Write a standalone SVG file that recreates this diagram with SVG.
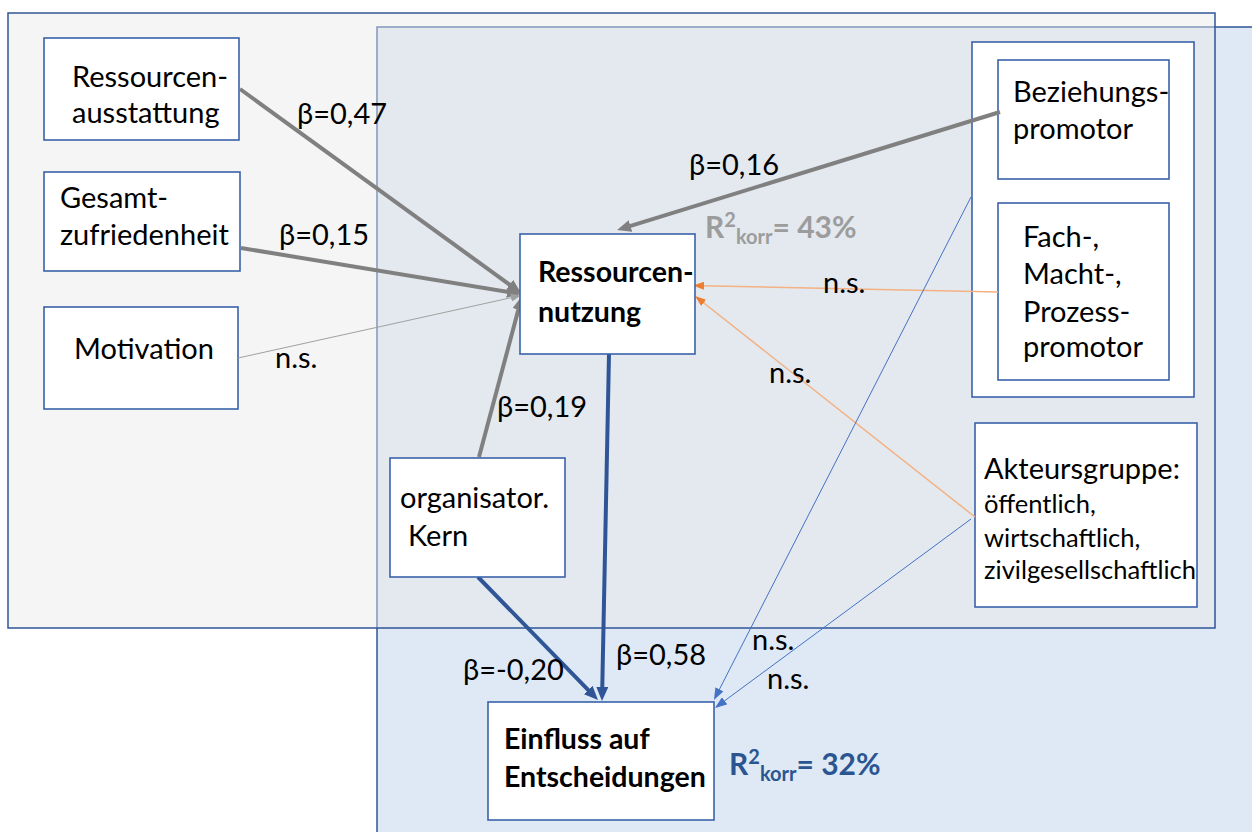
<svg xmlns="http://www.w3.org/2000/svg" width="1252" height="832" viewBox="0 0 1252 832">
<style>
.t{font-family:Lato,"Liberation Sans",sans-serif;font-size:29px;fill:#000}
.b{font-weight:bold;font-size:28.5px}
.s{font-size:25.5px}
.node{fill:#fff;stroke:#3a62aa;stroke-width:1.6}
.g{stroke:#808080;stroke-width:4;fill:none}
.gt{stroke:#a0a0a0;stroke-width:1;fill:none}
.bt{stroke:#2f5597;stroke-width:4;fill:none}
.bl{stroke:#4472c4;stroke-width:1;fill:none}
.or{stroke:#f4b183;stroke-width:1.5;fill:none}
.r2{font-family:Lato,"Liberation Sans",sans-serif;font-weight:bold;font-size:30px}
</style>
<defs>
<marker id="ag" markerUnits="userSpaceOnUse" viewBox="0 0 14 12" refX="4" refY="6" markerWidth="14" markerHeight="12" orient="auto"><path d="M0,0 L14,6 L0,12 z" fill="#808080"/></marker>
<marker id="agt" markerUnits="userSpaceOnUse" viewBox="0 0 10 8" refX="2" refY="4" markerWidth="10" markerHeight="8" orient="auto"><path d="M0,0 L10,4 L0,8 z" fill="#a0a0a0"/></marker>
<marker id="ab" markerUnits="userSpaceOnUse" viewBox="0 0 14 12" refX="4" refY="6" markerWidth="14" markerHeight="12" orient="auto"><path d="M0,0 L14,6 L0,12 z" fill="#2f5597"/></marker>
<marker id="abl" markerUnits="userSpaceOnUse" viewBox="0 0 12 9" refX="4" refY="4.5" markerWidth="12" markerHeight="9" orient="auto"><path d="M0,0 L12,4.5 L0,9 z" fill="#4472c4"/></marker>
<marker id="ao" markerUnits="userSpaceOnUse" viewBox="0 0 11 8" refX="3" refY="4" markerWidth="11" markerHeight="8" orient="auto"><path d="M0,0 L11,4 L0,8 z" fill="#ed7d31"/></marker>
</defs>
<rect width="1252" height="832" fill="#fff"/>
<g id="frames">
<rect x="377" y="27" width="900" height="830" fill="#dee9f5" stroke="#2f5597" stroke-width="1.5"/>
<rect x="8" y="13" width="1207" height="615" fill="#e9e9e9" fill-opacity="0.45" stroke="#2f5597" stroke-width="1.5"/>
</g>
<g id="n-ra"><rect class="node" x="44" y="38" width="195" height="102"/>
<text class="t" x="72" y="87">Ressourcen-</text><text class="t" x="72" y="123">ausstattung</text></g>
<g id="n-gz"><rect class="node" x="44" y="172" width="196" height="99"/>
<text class="t" x="60" y="208">Gesamt-</text><text class="t" x="60" y="245">zufriedenheit</text></g>
<g id="n-mot"><rect class="node" x="44" y="307" width="194" height="102"/>
<text class="t" x="74" y="359">Motivation</text></g>
<g id="n-pg"><rect class="node" x="972" y="42" width="222" height="355"/></g>
<g id="n-bp"><rect class="node" x="998" y="60" width="171" height="119"/>
<text class="t" x="1013" y="102">Beziehungs-</text><text class="t" x="1013" y="139">promotor</text></g>
<g id="n-fp"><rect class="node" x="998" y="203" width="171" height="177"/>
<text class="t" x="1023" y="247">Fach-,</text><text class="t" x="1023" y="284">Macht-,</text><text class="t" x="1023" y="322">Prozess-</text><text class="t" x="1023" y="357">promotor</text></g>
<g id="n-ag"><rect class="node" x="975" y="423" width="222" height="184"/>
<text class="t" x="984" y="479">Akteursgruppe:</text><text class="t s" x="984" y="513">öffentlich,</text><text class="t s" x="984" y="547">wirtschaftlich,</text><text class="t s" x="984" y="579">zivilgesellschaftlich</text></g>
<g id="connectors">
<line class="g" x1="240" y1="89" x2="512.9" y2="287.1" marker-end="url(#ag)"/>
<line class="g" x1="241" y1="248" x2="511.1" y2="292.4" marker-end="url(#ag)"/>
<line class="gt" x1="238" y1="358" x2="513" y2="297.3" marker-end="url(#agt)"/>
<line class="g" x1="479" y1="457" x2="519.4" y2="305.7" marker-end="url(#ag)"/>
<line class="g" x1="1000" y1="112" x2="626.6" y2="227.1" marker-end="url(#ag)"/>
<line class="or" x1="998" y1="292" x2="701" y2="285.7" marker-end="url(#ao)"/>
<line class="or" x1="975" y1="517" x2="701.3" y2="301" marker-end="url(#ao)"/>
<line class="bl" x1="971" y1="519" x2="721.4" y2="703.2" marker-end="url(#abl)"/>
<line class="bl" x1="971" y1="197" x2="717.6" y2="692.9" marker-end="url(#abl)"/>
<line class="bt" x1="609" y1="354" x2="602.2" y2="691" marker-end="url(#ab)"/>
<line class="bt" x1="478" y1="577" x2="591" y2="692.8" marker-end="url(#ab)"/>
</g>
<g id="n-rn"><rect class="node" x="520" y="234" width="175" height="120"/>
<text class="t b" x="538" y="282">Ressourcen-</text><text class="t b" x="538" y="322">nutzung</text></g>
<g id="n-ok"><rect class="node" x="390" y="458" width="175" height="119"/>
<text class="t" x="400" y="508">organisator.</text><text class="t" x="408" y="546">Kern</text></g>
<g id="n-ee"><rect class="node" x="488" y="702" width="226" height="118"/>
<text class="t b" x="504" y="749">Einfluss auf</text><text class="t b" x="504" y="787">Entscheidungen</text></g>
<g id="labels">
<text class="t" x="297" y="124">β=0,47</text>
<text class="t" x="279" y="245">β=0,15</text>
<text class="t" x="689" y="175">β=0,16</text>
<text class="t" x="275" y="368">n.s.</text>
<text class="t" x="823" y="293">n.s.</text>
<text class="t" x="769" y="383">n.s.</text>
<text class="t" x="497" y="417">β=0,19</text>
<text class="t" x="463" y="680">β=-0,20</text>
<text class="t" x="616" y="665">β=0,58</text>
<text class="t" x="752" y="650">n.s.</text>
<text class="t" x="767" y="689">n.s.</text>
<text class="r2" x="705" y="238" fill="#9c9c9c">R<tspan font-size="20" dy="-11">2</tspan><tspan font-size="20" dy="17">korr</tspan><tspan dy="-6">= 43%</tspan></text>
<text class="r2" x="729" y="775" fill="#2b5591">R<tspan font-size="20" dy="-11">2</tspan><tspan font-size="20" dy="17">korr</tspan><tspan dy="-6">= 32%</tspan></text>
</g>
</svg>
